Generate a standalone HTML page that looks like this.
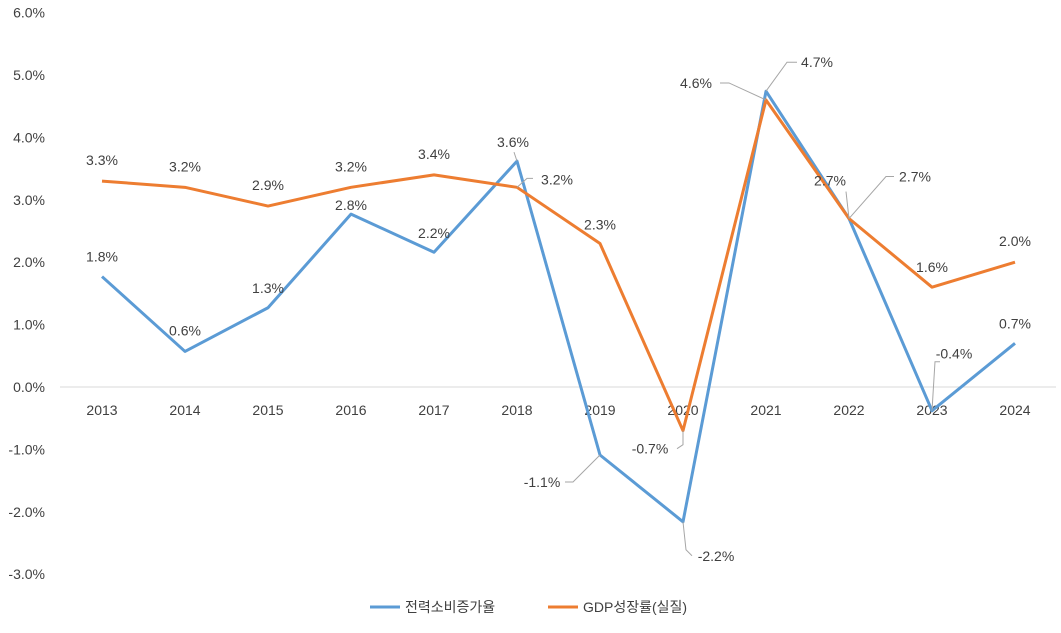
<!DOCTYPE html>
<html><head><meta charset="utf-8"><style>
body{margin:0;background:#fff;width:1061px;height:628px;overflow:hidden}
svg{font-family:"Liberation Sans","Noto Sans CJK KR",sans-serif}
</style></head><body>
<svg id="chart" width="1061" height="628"></svg>
<script>
const years=["2013","2014","2015","2016","2017","2018","2019","2020","2021","2022","2023","2024"];
const power=[1.77,0.57,1.27,2.77,2.16,3.62,-1.09,-2.16,4.74,2.7,-0.38,0.7];
const powerLabels=["1.8%","0.6%","1.3%","2.8%","2.2%","3.6%","-1.1%","-2.2%","4.7%","2.7%","-0.4%","0.7%"];
const gdp=[3.3,3.2,2.9,3.2,3.4,3.2,2.3,-0.7,4.6,2.7,1.6,2.0];
const gdpLabels=["3.3%","3.2%","2.9%","3.2%","3.4%","3.2%","2.3%","-0.7%","4.6%","2.7%","1.6%","2.0%"];
const yTicks=[6,5,4,3,2,1,0,-1,-2,-3];
const yTickLabels=["6.0%","5.0%","4.0%","3.0%","2.0%","1.0%","0.0%","-1.0%","-2.0%","-3.0%"];
// label offsets (style): [dx,dy] and optional leader offsets
const pOff=[[0,-20],[0,-21],[0,-20],[0,-9],[0,-19],[-4,-19,[[-3,-9]]],[-58,27,[[-27,27],[-35,27]]],[33,34,[[3,28],[9,34]]],[51,-29,[[21,-29],[31,-29]]],[-19,-38,[[-3,-27]]],[22,-57,[[3,-49],[8,-49]]],[0,-20]];
const gOff=[[0,-21],[0,-21],[0,-21],[0,-21],[0,-21],[40,-8,[[10,-9],[16,-9]]],[0,-19],[-33,18,[[0,14],[-6,18]]],[-70,-17,[[-37,-17],[-46,-17]]],[66,-42,[[37,-42],[45,-42]]],[0,-20],[0,-21]];
const svg=document.getElementById('chart');const NS='http://www.w3.org/2000/svg';
const x=i=>102+i*83;const y=v=>387-v*62.4;
function mk(t,a,p){const e=document.createElementNS(NS,t);for(const k in a)e.setAttribute(k,a[k]);(p||svg).appendChild(e);return e;}
yTicks.forEach((v,i)=>{const t=mk('text',{x:45,y:y(v)+5,'text-anchor':'end','font-size':14,fill:'#404040'});t.textContent=yTickLabels[i];

});
const ax=mk('line',{x1:60,x2:1056,y1:y(0),y2:y(0),stroke:'#d9d9d9','stroke-width':1});


years.forEach((c,i)=>{const t=mk('text',{x:x(i),y:415,'text-anchor':'middle','font-size':14,fill:'#404040'});t.textContent=c;

});
function series(vals,color,name){const l=mk('polyline',{points:vals.map((v,i)=>x(i)+','+y(v)).join(' '),fill:'none',stroke:color,'stroke-width':3,'stroke-linejoin':'round'});

}
series(power,'#5b9bd5','power-line');
series(gdp,'#ed7d31','gdp-line');
function labels(vals,labs,off,name){vals.forEach((v,i)=>{const px=x(i),py=y(v),o=off[i];const lx=px+o[0],ly=py+o[1];
if(o[2]){const pts=[[0,0]].concat(o[2]).map(q=>(px+q[0])+','+(py+q[1])).join(' ');mk('polyline',{points:pts,fill:'none',stroke:'#a6a6a6','stroke-width':1});}
const t=mk('text',{x:lx,y:ly+5,'text-anchor':'middle','font-size':14,fill:'#404040'});t.textContent=labs[i];

});}
labels(power,powerLabels,pOff,'power-data-label');
labels(gdp,gdpLabels,gOff,'gdp-data-label');
const lg=mk('g',{});


mk('line',{x1:370,x2:400,y1:607,y2:607,stroke:'#5b9bd5','stroke-width':3},lg);
let t=mk('text',{x:405,y:612,'font-size':14,fill:'#404040'},lg);t.textContent='전력소비증가율';
mk('line',{x1:548,x2:578,y1:607,y2:607,stroke:'#ed7d31','stroke-width':3},lg);
t=mk('text',{x:583,y:612,'font-size':14,fill:'#404040'},lg);t.textContent='GDP성장률(실질)';
</script></body></html>
